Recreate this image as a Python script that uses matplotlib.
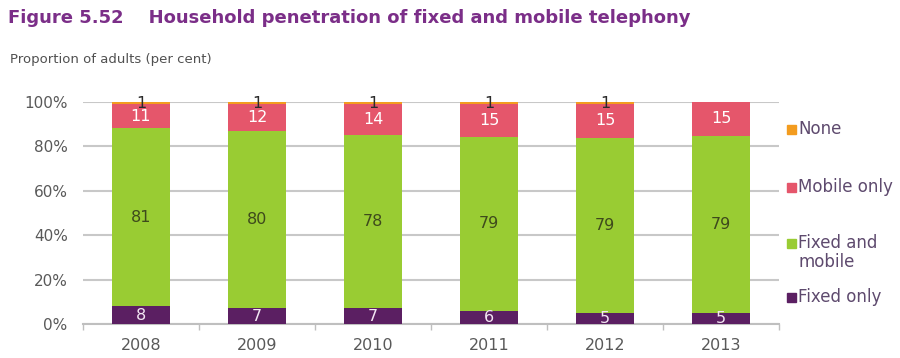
import matplotlib
matplotlib.use("Agg")
import matplotlib.pyplot as plt
import numpy as np

years = ["2008", "2009", "2010", "2011", "2012", "2013"]
fixed_only = [8, 7, 7, 6, 5, 5]
fixed_and_mobile = [81, 80, 78, 79, 79, 79]
mobile_only = [11, 12, 14, 15, 15, 15]
none = [1, 1, 1, 1, 1, 0]
yticks = [0, 20, 40, 60, 80, 100]

plt.rcParams['font.family'] = ['DejaVu Sans']

series = [
    ("Fixed only", fixed_only, "#5B1F62", "#F3E6F3"),
    ("Fixed and\nmobile", fixed_and_mobile, "#99CC33", "#3E4A1C"),
    ("Mobile only", mobile_only, "#E5566B", "#FFFFFF"),
    ("None", none, "#F39C1F", "#2B2B2B"),
]

fig = plt.figure(figsize=(9, 3.58), dpi=100)
ax = fig.add_axes([83/900, 1-324/358, (779-83)/900, (324-102)/358])

x = np.arange(len(years))
totals = np.sum([np.array(s[1], float) for s in series], axis=0)
bottom = np.zeros(len(years))
for name, vals, col, tcol in series:
    v = np.array(vals, float)
    h = v / totals * 100
    ax.bar(x, h, width=0.5, bottom=bottom, color=col, zorder=3)
    for i in range(len(years)):
        if vals[i] > 0:
            ax.text(x[i], bottom[i] + h[i] / 2, str(vals[i]), ha='center', va='center',
                    fontsize=11.5, color=tcol, zorder=4)
    bottom += h

ax.set_xlim(-0.5, len(years) - 0.5)
ax.set_ylim(0, 100)
ax.set_yticks(yticks)
ax.set_yticklabels([f"{t}%" for t in yticks])
ax.yaxis.grid(True, color="#C8C8C8", linewidth=1.5, zorder=0)
ax.set_axisbelow(True)
for s in ["top", "right", "left"]:
    ax.spines[s].set_visible(False)
ax.spines["bottom"].set_color("#BFBFBF")
ax.spines["bottom"].set_linewidth(1.5)
ax.tick_params(axis='y', length=0, labelsize=11, labelcolor="#595959", pad=11)
ax.set_xticks(x)
ax.set_xticklabels(years)
ax.tick_params(axis='x', length=0, labelsize=11.5, labelcolor="#595959", pad=10)
ax.set_xticks(np.arange(-0.5, len(years), 1.0), minor=True)
ax.tick_params(axis='x', which='minor', length=4, color="#BFBFBF", width=1)

fig.text(8/900, 1-18/358, "Figure 5.52    Household penetration of fixed and mobile telephony",
         fontsize=13, fontweight='bold', color="#7B2E88", va='center', ha='left')
fig.text(10/900, 1-60/358, "Proportion of adults (per cent)", fontsize=9.5,
         color="#505050", va='center', ha='left')

# legend
leg_items = [("None", "#F39C1F", 129), ("Mobile only", "#E5566B", 187),
             ("Fixed and\nmobile", "#99CC33", 252), ("Fixed only", "#5B1F62", 297)]
for label, col, yc in leg_items:
    first_line_y = yc - (9 if "\n" in label else 0)
    fig.patches.append(plt.Rectangle((787/900, 1-(first_line_y+4.5)/358), 9/900, 9/358,
                                     transform=fig.transFigure, color=col, figure=fig))
    if "\n" in label:
        fig.text(798/900, 1-(first_line_y-9)/358, label, fontsize=12, color="#5E4A6E",
                 va='top', ha='left', linespacing=1.1)
    else:
        fig.text(798/900, 1-first_line_y/358, label, fontsize=12, color="#5E4A6E",
                 va='center', ha='left')

fig.savefig("out.png", dpi=100)
